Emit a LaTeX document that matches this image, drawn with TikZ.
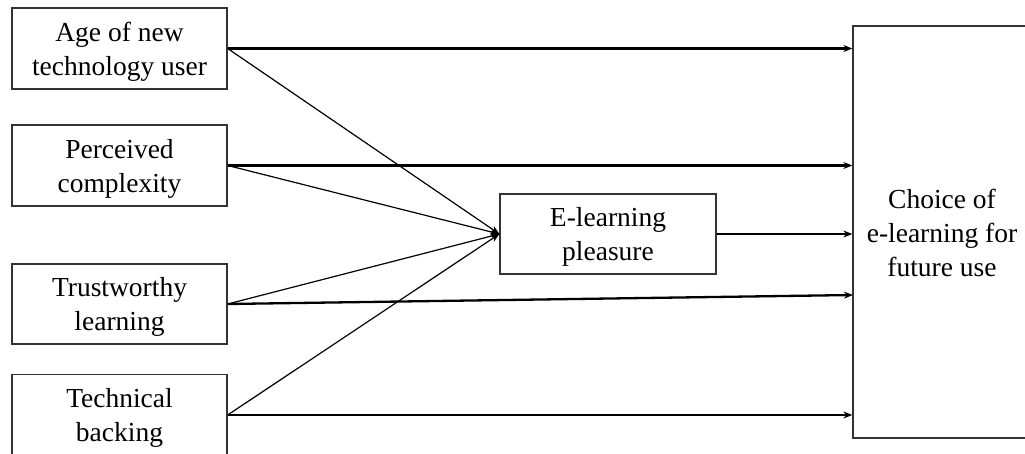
\documentclass[tikz,border=0pt]{standalone}
\usepackage{fontspec}
\setmainfont{Liberation Serif}
\usetikzlibrary{arrows.meta}
\begin{document}
\begin{tikzpicture}[x=1pt,y=-1pt,
  box/.style={draw=black!80,line width=1.3pt,fill=white,inner sep=0pt},
  txt/.style={align=center,inner sep=0pt,font=\fontsize{27.5}{34}\selectfont},
  thick arrow/.style={line width=2.3pt,-{Stealth[length=9pt,width=7pt]}},
  thin arrow/.style={line width=1.2pt,-{Stealth[length=9pt,width=7pt]}}]
\useasboundingbox (0,0) rectangle (1025,454);
\node[box,minimum width=215pt,minimum height=81pt] (b1) at (119.5,48.5) {};
\node[box,minimum width=215pt,minimum height=81pt] (b2) at (119.5,165.5) {};
\node[box,minimum width=215pt,minimum height=80pt] (b3) at (119.5,304) {};
\node[box,minimum width=215pt,minimum height=81pt] (b4) at (119.5,415) {};
\node[box,minimum width=216pt,minimum height=80pt] (m) at (608,234) {};
\node[box,minimum width=178pt,minimum height=412pt] (c) at (942,232) {};
\node[txt] (b1t) at ([yshift=-3pt]b1.center) {Age of new\\technology user};
\node[txt] (b2t) at ([yshift=-3pt]b2.center) {Perceived\\complexity};
\node[txt] (b3t) at ([yshift=-3pt]b3.center) {Trustworthy\\learning};
\node[txt] (b4t) at ([yshift=-3pt]b4.center) {Technical\\backing};
\node[txt] (mt) at ([yshift=-3pt]m.center) {E-learning\\pleasure};
\node[txt] (ct) at ([yshift=-1pt]c.center) {Choice of\\e-learning for\\future use};
\coordinate (t3) at (853,295);
\draw[thick arrow] (b1.east) -- (b1.east -| c.west);
\draw[thick arrow] (b2.east) -- (b2.east -| c.west);
\draw[thick arrow] (b3.east) -- (t3);
\draw[thick arrow] (b4.east) -- (b4.east -| c.west);
\draw[thin arrow] (m.east) -- (m.east -| c.west);
\draw[thin arrow] (b1.east) -- (m.west);
\draw[thin arrow] (b2.east) -- (m.west);
\draw[thin arrow] (b3.east) -- (m.west);
\draw[thin arrow] (b4.east) -- (m.west);
\end{tikzpicture}
\end{document}
